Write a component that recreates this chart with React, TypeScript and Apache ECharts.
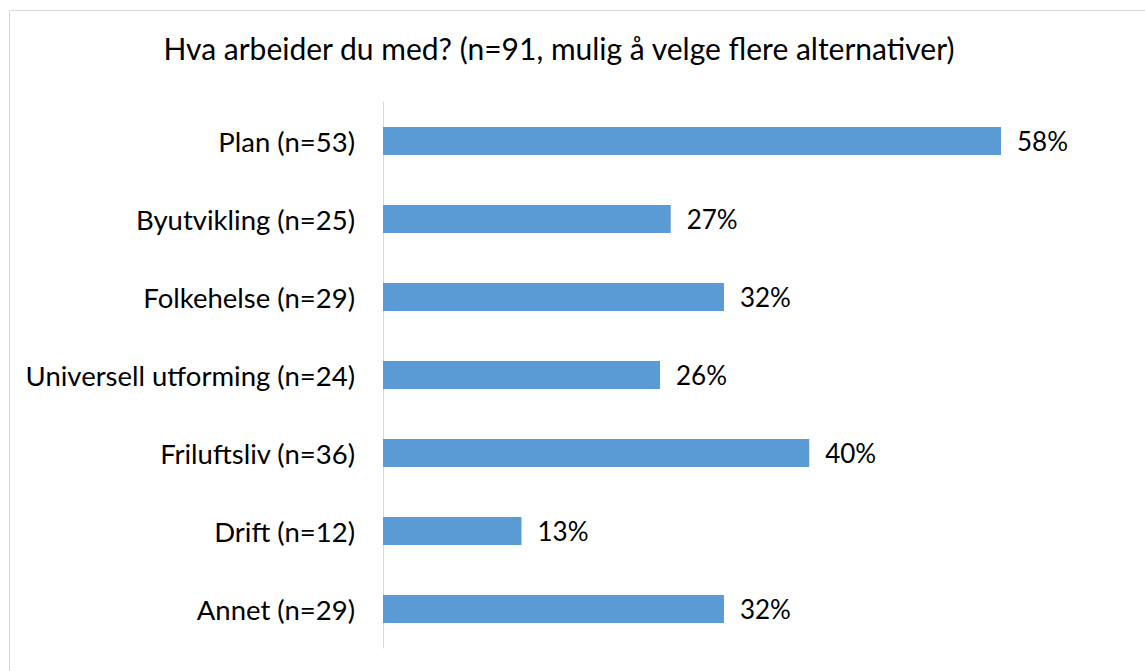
import React, { useEffect, useRef } from "react";
import * as echarts from "echarts";

const title = "Hva arbeider du med? (n=91, mulig å velge flere alternativer)";
const categories = [
  "Plan (n=53)",
  "Byutvikling (n=25)",
  "Folkehelse (n=29)",
  "Universell utforming (n=24)",
  "Friluftsliv (n=36)",
  "Drift (n=12)",
  "Annet (n=29)",
];
const values = [58, 27, 32, 26, 40, 13, 32];

const FONT = "Lato, 'Open Sans', sans-serif";

export default function App() {
  const ref = useRef<HTMLDivElement>(null);
  useEffect(() => {
    if (!ref.current) return;
    const chart = echarts.init(ref.current, null, { renderer: "svg" });
    chart.setOption({
      animation: false,
      backgroundColor: "#ffffff",
      title: {
        text: title,
        left: 554,
        top: 28,
        textAlign: "center",
        textStyle: { fontFamily: FONT, fontSize: 30, fontWeight: "normal", color: "#000000" },
      },
      graphic: [
        {
          type: "polyline",
          shape: { points: [[9.5, 680], [9.5, 10.5], [1160, 10.5]] },
          style: { stroke: "#d9d9d9", lineWidth: 1, fill: "none" },
          silent: true,
        },
      ],
      grid: { left: 383, top: 102, height: 546, width: 745.85 },
      xAxis: {
        type: "value",
        min: 0,
        max: 70,
        show: false,
        splitLine: { show: false },
      },
      yAxis: {
        type: "category",
        data: categories,
        inverse: true,
        axisLine: { show: true, lineStyle: { color: "#d9d9d9", width: 1 } },
        axisTick: { show: false },
        axisLabel: { fontFamily: FONT, fontSize: 27.5, color: "#000000", margin: 28 },
      },
      series: [
        {
          type: "bar",
          data: values,
          barWidth: 28,
          itemStyle: { color: "#5b9bd5" },
          label: {
            show: true,
            position: "right",
            distance: 16,
            formatter: "{c}%",
            fontFamily: FONT,
            fontSize: 26,
            color: "#000000",
          },
        },
      ],
    });
    return () => chart.dispose();
  }, []);
  return (
    <div
      ref={ref}
      style={{ position: "fixed", left: 0, top: 0, width: 1145, height: 671 }}
    />
  );
}
